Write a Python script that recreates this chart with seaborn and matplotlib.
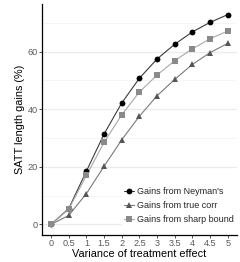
import numpy as np
import pandas as pd
import seaborn as sns
import matplotlib
matplotlib.use("Agg")
import matplotlib.pyplot as plt
from matplotlib.lines import Line2D

variance = [0, 0.5, 1, 1.5, 2, 2.5, 3, 3.5, 4, 4.5, 5]
gains_neyman = [0, 5.5, 18.5, 31.4, 42.2, 50.8, 57.5, 62.6, 66.9, 70.2, 72.9]
gains_true = [0, 3.1, 10.7, 20.2, 29.4, 37.6, 44.7, 50.4, 55.6, 59.7, 62.9]
gains_sharp = [0, 5.3, 17.0, 28.5, 38.1, 46.0, 51.9, 56.9, 61.0, 64.5, 67.2]
labels = ["Gains from Neyman's", "Gains from true corr", "Gains from sharp bound"]
xticks = [0, 0.5, 1, 1.5, 2, 2.5, 3, 3.5, 4, 4.5, 5]
yticks = [0, 20, 40, 60]

df = pd.DataFrame({
    "variance": variance * 3,
    "gain": gains_neyman + gains_true + gains_sharp,
    "series": [labels[0]] * 11 + [labels[1]] * 11 + [labels[2]] * 11,
})

sns.set_theme(style="white")
plt.rcParams["font.family"] = ["Liberation Sans", "DejaVu Sans"]

line_col = {labels[0]: "#3a3a3a", labels[1]: "#7a7a7a", labels[2]: "#a8a8a8"}
mark_col = {labels[0]: "#000000", labels[1]: "#555555", labels[2]: "#8a8a8a"}
markers = {labels[0]: "o", labels[1]: "^", labels[2]: "s"}
msize = {labels[0]: 4.2, labels[1]: 5.0, labels[2]: 4.2}

fig = plt.figure(figsize=(2.4, 2.62), dpi=100)
ax = fig.add_axes([0.176, 0.103, 0.81, 0.882])

for s in labels:
    sub = df[df["series"] == s]
    sns.lineplot(data=sub, x="variance", y="gain", ax=ax, color=line_col[s],
                 linewidth=0.8, legend=False, zorder=3)
    ax.plot(sub["variance"], sub["gain"], linestyle="none", marker=markers[s],
            markersize=msize[s], color=mark_col[s], markeredgewidth=0, zorder=4)

ax.set_xlim(-0.25, 5.25)
ax.set_ylim(-3.7, 76.6)
ax.set_xticks(xticks)
ax.set_xticklabels([("%g" % t) for t in xticks])
ax.set_yticks(yticks)
ax.set_yticks([10, 30, 50, 70], minor=True)
ax.grid(False)
for t in yticks:
    ax.axhline(t, color="#ebebeb", linewidth=0.9, zorder=0)
for t in [10, 30, 50, 70]:
    ax.axhline(t, color="#f4f4f4", linewidth=0.6, zorder=0)

for side in ["top", "right"]:
    ax.spines[side].set_visible(False)
for side in ["left", "bottom"]:
    ax.spines[side].set_color("black")
    ax.spines[side].set_linewidth(0.9)

ax.tick_params(axis="both", which="major", length=2, width=0.6, color="#333333",
               labelsize=6.6, labelcolor="#5a5a5a", pad=1.2, bottom=True, left=True)
ax.tick_params(axis="y", which="minor", length=0)
ax.set_xlabel("Variance of treatment effect", fontsize=7.8, color="black", labelpad=0.5)
ax.set_ylabel("SATT length gains (%)", fontsize=7.8, color="black", labelpad=2)

handles = [Line2D([0], [0], color=line_col[s], linewidth=0.8, marker=markers[s],
                  markersize=msize[s], markerfacecolor=mark_col[s],
                  markeredgewidth=0) for s in labels]
leg = ax.legend(handles, labels, loc="lower right", bbox_to_anchor=(1.0, 0.035),
                fontsize=6.5, frameon=True, handlelength=1.1, handletextpad=0.3,
                labelspacing=0.58, borderpad=0.3, borderaxespad=0.0)
leg.get_frame().set_facecolor("white")
leg.get_frame().set_edgecolor("white")
leg.get_frame().set_alpha(1)

fig.savefig("out.png", dpi=100)
